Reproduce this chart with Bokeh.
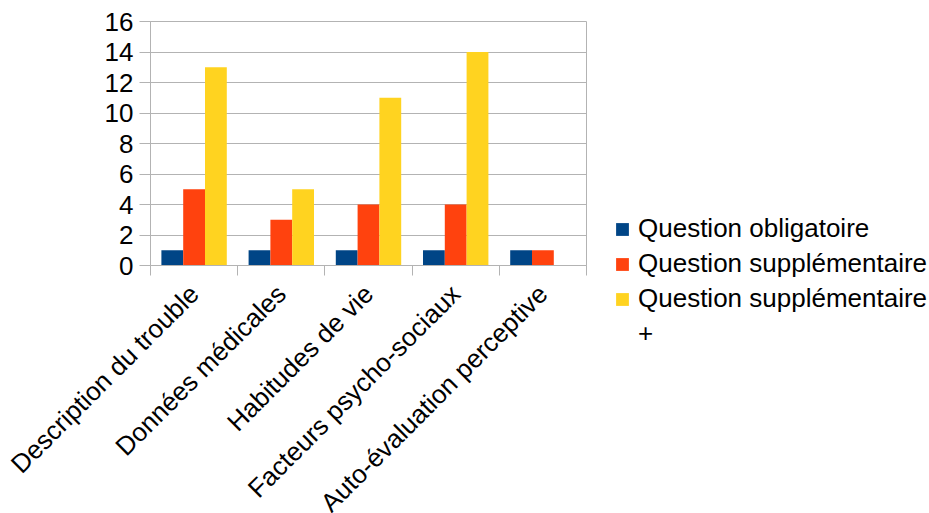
import math
from bokeh.plotting import figure
from bokeh.models import ColumnDataSource, FixedTicker, SingleIntervalTicker, Range1d, Legend, LegendItem
from bokeh.transform import dodge
from bokeh.embed import file_html
from bokeh.resources import INLINE

categories = ["Description du trouble", "Données médicales", "Habitudes de vie",
              "Facteurs psycho-sociaux", "Auto-évaluation perceptive"]
obligatoire = [1, 1, 1, 1, 1]
supplementaire = [5, 3, 4, 4, 1]
supplementaire_plus = [13, 5, 11, 14, 0]
series_names = ["Question obligatoire", "Question supplémentaire", "Question supplémentaire", "+"]
colors = ["#004586", "#ff420e", "#ffd320"]

centers = [i + 0.5 for i in range(len(categories))]
bounds = [float(i) for i in range(len(categories) + 1)]

src = ColumnDataSource(dict(x=centers, a=obligatoire, b=supplementaire, c=supplementaire_plus))

FONT = "Liberation Sans"
GRAY = "#b3b3b3"
FS = "26px"

p = figure(frame_width=436, frame_height=244, output_backend="svg", toolbar_location=None,
           x_range=Range1d(0, len(categories)), y_range=Range1d(0, 16),
           min_border_left=150, min_border_right=343, min_border_top=21, min_border_bottom=248)
p.background_fill_color = "white"
p.border_fill_color = "white"
p.outline_line_color = GRAY

renderers = []
for col, off, color in zip(["a", "b", "c"], [-0.25, 0.0, 0.25], colors):
    r = p.vbar(x=dodge("x", off, range=p.x_range), top=col, width=0.25, bottom=0,
               source=src, fill_color=color, line_color=None)
    renderers.append(r)

# invisible entry used only to wrap the last legend label onto a second line
wrap_r = p.vbar(x=[], top=[], width=0.25, fill_alpha=0, line_alpha=0)
renderers.append(wrap_r)

# x axis
xa = p.xaxis[0]
xa.ticker = FixedTicker(ticks=centers, minor_ticks=bounds)
xa.major_label_overrides = {c: n for c, n in zip(centers, categories)}
xa.major_label_orientation = math.pi / 4
xa.major_tick_out = 0
xa.major_tick_in = 0
xa.minor_tick_out = 10
xa.minor_tick_in = 0
xa.minor_tick_line_color = GRAY
xa.axis_line_color = GRAY
xa.major_label_text_font = FONT
xa.major_label_text_font_size = FS
xa.major_label_text_color = "black"
xa.major_label_standoff = 14

# y axis
ya = p.yaxis[0]
ya.ticker = SingleIntervalTicker(interval=2)
ya.major_tick_out = 11
ya.major_tick_in = 0
ya.minor_tick_out = 0
ya.minor_tick_in = 0
ya.major_tick_line_color = GRAY
ya.axis_line_color = GRAY
ya.major_label_text_font = FONT
ya.major_label_text_font_size = FS
ya.major_label_text_color = "black"
ya.major_label_standoff = 6

p.xgrid.grid_line_color = None
p.ygrid.grid_line_color = GRAY
p.ygrid.ticker = SingleIntervalTicker(interval=2)

legend = Legend(items=[LegendItem(label=n, renderers=[r]) for n, r in zip(series_names, renderers)],
                location=(28, -84))
legend.border_line_color = None
legend.background_fill_alpha = 0
legend.label_text_font = FONT
legend.label_text_font_size = FS
legend.label_text_color = "black"
legend.glyph_width = 16
legend.glyph_height = 16
legend.spacing = 4
legend.label_standoff = 8
p.add_layout(legend, "right")

open("out.html", "w").write(file_html(p, INLINE))
